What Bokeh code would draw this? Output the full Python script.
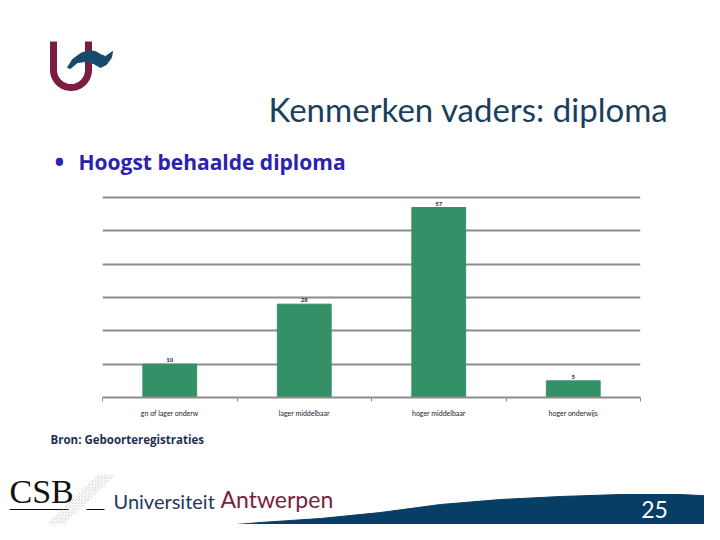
import numpy as np
from bokeh.plotting import figure
from bokeh.models import Range1d, LinearAxis, FixedTicker, Grid
from bokeh.core.properties import value
from bokeh.embed import file_html
from bokeh.resources import INLINE

# ---------------- data ----------------
categories = ["gn of lager onderw", "lager middelbaar", "hoger middelbaar", "hoger onderwijs"]
values = [10, 28, 57, 5]
value_labels = ["10", "28", "57", "5"]
grid_ticks = [0, 10, 20, 30, 40, 50, 60]

title_text = "Kenmerken vaders: diploma"
bullet_text = "Hoogst behaalde diploma"
source_text = "Bron: Geboorteregistraties"
page_number = "25"

# ---------------- layout ----------------
W, H = 704, 524
FL, FR = 102, 640           # chart frame, x (page pixels)
FT, FB = 195, 397           # chart frame, y (page pixels)
YMAX = 60.6

n = len(categories)
centers = [i + 0.5 for i in range(n)]
bounds = list(range(n + 1))

p = figure(width=W, height=H, output_backend="svg", toolbar_location=None,
           x_range=Range1d(0, n), y_range=Range1d(0, YMAX),
           x_axis_location=None, y_axis_location=None,
           min_border_left=FL, min_border_right=W - FR,
           min_border_top=FT, min_border_bottom=H - FB,
           outline_line_color=None, background_fill_color="white",
           border_fill_color="white")
p.xgrid.visible = False
p.ygrid.visible = False

p.extra_x_ranges = {"px": Range1d(FL, FR)}
p.extra_y_ranges = {"py": Range1d(FB, FT)}

p.add_layout(Grid(dimension=1, ticker=FixedTicker(ticks=grid_ticks),
                  grid_line_color="#8C8C8C", grid_line_width=2), "center")

# bars
p.vbar(x=centers, top=values, width=0.4, color="#349167")
p.text(x=centers, y=values, text=value_labels, text_align="center",
       text_baseline="bottom", y_offset=-2, text_font_size="6px",
       text_color="#1C2541", text_font=value("Lato"), text_font_style="bold")

# category axis
ax = LinearAxis(ticker=FixedTicker(ticks=centers, minor_ticks=bounds),
                major_label_overrides={c: lab for c, lab in zip(centers, categories)},
                axis_line_color="#8C8C8C", axis_line_width=2,
                major_tick_line_color=None,
                minor_tick_line_color="#8C8C8C", minor_tick_out=4, minor_tick_in=0,
                major_label_text_font_size="7px", major_label_text_color="#1B1B2F",
                major_label_text_font="Lato", major_label_standoff=5)
p.add_layout(ax, "below")

# ---------------- decorations (page pixel coordinates) ----------------
deco = dict(x_range_name="px", y_range_name="py", level="overlay")


def label(x, baseline, txt, size, **kw):
    # alphabetic text renders ~0.4em below the given y: compensate
    p.text(x=[x], y=[baseline - 0.4 * size], text=[txt], text_baseline="alphabetic",
           text_font_size=f"{size}px", **kw, **deco)


# bottom wave
wave_x = [60, 100, 150, 200, 260, 320, 380, 440, 500, 560, 620, 680, 720, 720, 60]
wave_y = [541, 535, 531, 527, 522, 518, 512, 504, 499, 496, 494, 494, 496, 541, 541]
p.patch(wave_x, wave_y, fill_color="#063E66", line_color="#063E66", **deco)

# UA logo
t = np.linspace(0, np.pi, 40)
ux = [53] + list(70.5 - 17.5 * np.cos(t)) + [88]
uy = [41] + list(69.5 + 17.5 * np.sin(t)) + [41]
p.line(ux, uy, line_color="#7B1D40", line_width=7, **deco)
sw_x = [67, 72, 80, 88, 95, 100, 105, 112, 111, 106, 100, 93, 85, 77, 70]
sw_y = [67, 59, 53, 50, 51, 54, 56, 51, 57, 64, 67, 63, 61, 62, 68]
p.patch(sw_x, sw_y, fill_color="#154A6D", line_color="#154A6D", **deco)

# titles
label(668, 122, title_text, 33, text_align="right", text_font=value("Lato"),
      text_color="#1A3F5C")
label(54, 172, "\u2022", 26, text_font=value("Open Sans"), text_font_style="bold",
      text_color="#2B22B0")
label(78, 170, bullet_text, 21, text_font=value("Open Sans"), text_font_style="bold",
      text_color="#2B22B0")
label(50, 444, source_text, 11.5, text_font=value("Open Sans"), text_font_style="bold",
      text_color="#1F3057")

# CSB logo
label(9, 505, "CSB", 34, text_font=value("Liberation Serif"), text_color="#111111")
p.multi_line([[9, 68], [86, 104]], [[509, 509], [509, 509]],
             line_color="#111111", line_width=1, **deco)
hx = [[44 + 3 * k, 98 + 3 * k] for k in range(6)]
hy = [[527, 475] for k in range(6)]
p.multi_line(hx, hy, line_color="#9A9A9A", line_width=0.8,
             line_dash="1 1", **deco)

label(113, 508, "Universiteit", 20, text_font=value("Lato"), text_color="#1E3A5C")
label(220, 508, "Antwerpen", 23, text_font=value("Lato"), text_color="#7A1D3F")

label(654, 518, page_number, 23, text_align="center", text_font=value("Lato"),
      text_color="white")

open("out.html", "w").write(file_html(p, INLINE))
